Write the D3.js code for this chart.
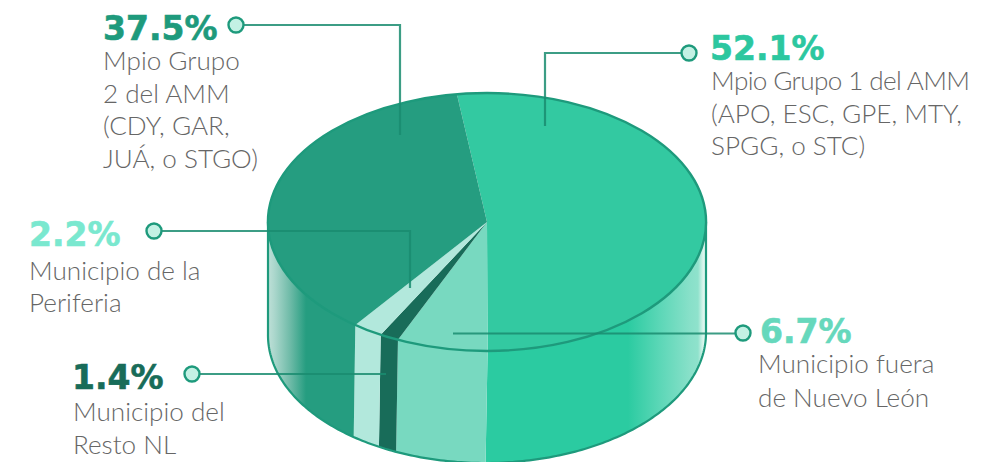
<!DOCTYPE html>
<html><head><meta charset="utf-8">
<script src="https://cdn.jsdelivr.net/npm/d3@7"></script>
<style>html,body{margin:0;padding:0;background:#fff}svg{display:block}
.pct{font-family:"DejaVu Sans";font-weight:700;font-size:33px;letter-spacing:0;stroke-width:.6px}
.lab{font-family:Lato;font-weight:300;font-size:26.1px;fill:#666}</style>
</head><body><svg id="c" width="992" height="462"></svg>
<script>
const categories=["Mpio Grupo 1 del AMM","Municipio fuera de Nuevo León","Municipio del Resto NL","Municipio de la Periferia","Mpio Grupo 2 del AMM"];
const values=[52.1,6.7,1.4,2.2,37.5];
const valueLabels=["52.1%","6.7%","1.4%","2.2%","37.5%"];
const labelLines=[["Mpio Grupo 1 del AMM","(APO, ESC, GPE, MTY,","SPGG, o STC)"],["Municipio fuera","de Nuevo León"],["Municipio del","Resto NL"],["Municipio de la","Periferia"],["Mpio Grupo","2 del AMM","(CDY, GAR,","JUÁ, o STGO)"]];
const topColors=["#33C9A1","#78D9C0","#186C59","#B2E8DC","#259D80"];
const sideColors=["url(#gR)","#78D9C0","#186C59","#B2E8DC","url(#gL)"];
const pctColors=["#2CC79F","#66D8BC","#186C59","#7AE8CF","#1E9A7C"];

const W=992,H=462,cx=487,cy=222,rx=219,ry=129,depth=112,bottomShift=2;
const TAU=Math.PI*2,start=-7.9*Math.PI/180;
const svg=d3.select("#c");
const defs=svg.append("defs");
function grad(id,stops){const g=defs.append("linearGradient").attr("id",id).attr("gradientUnits","userSpaceOnUse").attr("x1",0).attr("x2",W).attr("y1",0).attr("y2",0);
 stops.forEach(s=>g.append("stop").attr("offset",s[0]/W).attr("stop-color",s[1]));}
grad("gR",[[0,"#2BCBA1"],[628,"#2BCBA1"],[660,"#5CD7B7"],[690,"#88E0C9"],[698,"#8FE2CC"],[703,"#D8F5EC"],[706,"#E8F9F4"]]);
grad("gL",[[268,"#BFE0D8"],[275,"#A9D6CB"],[290,"#6FBBA8"],[306,"#259D80"],[992,"#259D80"]]);

const pie=d3.pie().sort(null).value(d=>d).startAngle(start).endAngle(start+TAU);
const arcs=pie(values);
const px=a=>cx+rx*Math.sin(a), py=a=>cy-ry*Math.cos(a);
const bx=a=>px(a)+bottomShift*Math.cos(a), by=a=>py(a)+depth;

const f0=Math.PI/2,f1=Math.PI*1.5;
arcs.forEach((d,i)=>{
  const a0=Math.max(d.startAngle,f0),a1=Math.min(d.endAngle,f1);
  if(a1<=a0)return;
  const as=d3.range(0,101).map(k=>a0+(a1-a0)*k/100);
  const pts=as.map(a=>[px(a),py(a)]).concat(as.slice().reverse().map(a=>[bx(a),by(a)]));
  svg.append("path").attr("d",d3.line()(pts)+"Z").attr("fill",sideColors[i]);
});
const sweep=d3.range(0,201).map(k=>f0+(f1-f0)*k/200);
const sil=[[px(f0),py(f0)]].concat(sweep.map(a=>[bx(a),by(a)])).concat([[px(f1),py(f1)]]);
svg.append("path").attr("d",d3.line()(sil)).attr("fill","none").attr("stroke","#1E9A7C").attr("stroke-width",2.2);

const arc=d3.arc().innerRadius(0).outerRadius(rx);
const topG=svg.append("g").attr("transform",`translate(${cx},${cy}) scale(1,${ry/rx})`);
topG.selectAll("path").data(arcs).join("path").attr("d",arc).attr("fill",(d,i)=>topColors[i]);
topG.append("path").attr("d",d3.arc().innerRadius(rx).outerRadius(rx).startAngle(0).endAngle(TAU)())
 .attr("fill","none").attr("stroke","#1E9A7C").attr("stroke-width",2.4).attr("vector-effect","non-scaling-stroke");

const leaders=[
 {p:[[689,53],[545,53],[545,126]],c:[689,53],t:[710,60],l:[711,90,32.5],fit:{0:259}},
 {p:[[743,333.5],[453,333.5]],c:[743,333],t:[760,343],l:[758,373,33.5]},
 {p:[[192,374],[386,374]],c:[192,374],t:[72,389],l:[73,421,33]},
 {p:[[154,231],[410,231],[410,288]],c:[154,231],t:[29,246],l:[29,280,32]},
 {p:[[236,25],[400,25],[400,135]],c:[236,25],t:[103,40],l:[103,70,32.5]}
];
leaders.forEach((L,i)=>{
  svg.append("path").attr("d",d3.line()(L.p)).attr("fill","none").attr("stroke","#1A8C70").attr("stroke-opacity",.85).attr("stroke-width",2.2);
  svg.append("circle").attr("cx",L.c[0]).attr("cy",L.c[1]).attr("r",7.5).attr("fill","#C3F1E4").attr("stroke","#1E9A7C").attr("stroke-width",2.4);
  svg.append("text").attr("class","pct").attr("x",L.t[0]).attr("y",L.t[1]).attr("fill",pctColors[i]).attr("stroke",pctColors[i]).text(valueLabels[i]);
  labelLines[i].forEach((s,k)=>{
    const t=svg.append("text").attr("class","lab").attr("x",L.l[0]).attr("y",L.l[1]+k*L.l[2]).text(s);
    if(L.fit&&L.fit[k])t.attr("textLength",L.fit[k]);
  });
});
</script></body></html>
